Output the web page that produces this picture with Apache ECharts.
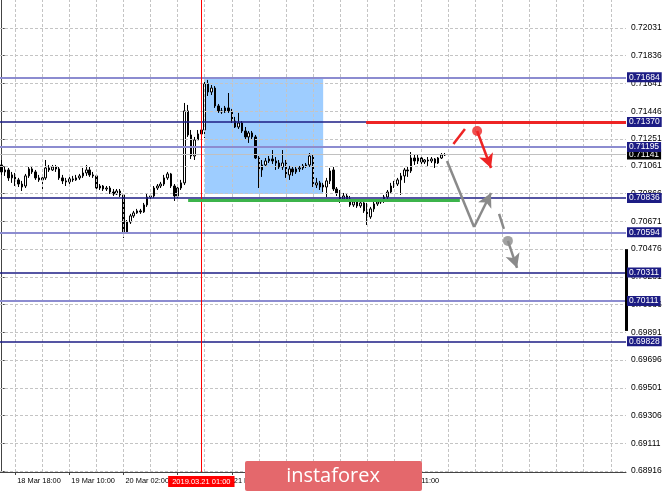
<!DOCTYPE html>
<html><head><meta charset="utf-8">
<script src="https://cdn.jsdelivr.net/npm/echarts@6/dist/echarts.min.js"></script>
<style>html,body{margin:0;padding:0;background:#fff}#c{width:665px;height:492px}</style>
</head><body><div id="c"></div>
<script>
// ---- data ----
const candles = [
[0.71068,0.71019,0.70998,0.71103],[0.71019,0.71033,0.70991,0.71054],[0.71033,0.70977,0.70956,0.71047],[0.70977,0.70998,0.70942,0.71019],
[0.70998,0.70963,0.70920,0.71012],[0.70963,0.70934,0.70913,0.70977],[0.70934,0.70913,0.70885,0.70956],[0.70920,0.70991,0.70906,0.71005],
[0.70991,0.71040,0.70977,0.71054],[0.71040,0.71019,0.71005,0.71061],[0.71019,0.70977,0.70963,0.71033],[0.70977,0.70963,0.70949,0.70998],
[0.70963,0.70977,0.70885,0.70991],[0.70977,0.71047,0.70963,0.71103],[0.71047,0.71033,0.71019,0.71068],[0.71033,0.71054,0.71026,0.71068],
[0.71054,0.71040,0.71019,0.71068],[0.71040,0.70977,0.70963,0.71054],[0.70977,0.70956,0.70934,0.70998],[0.70956,0.70949,0.70920,0.70977],
[0.70949,0.70970,0.70934,0.70991],[0.70970,0.70963,0.70949,0.70991],[0.70963,0.70977,0.70956,0.70998],[0.70977,0.70991,0.70963,0.71005],
[0.70991,0.71012,0.70977,0.71047],[0.71012,0.71033,0.70991,0.71068],[0.71033,0.70998,0.70984,0.71054],[0.70998,0.70991,0.70977,0.71019],
[0.70991,0.70906,0.70892,0.71005],[0.70906,0.70920,0.70892,0.70934],[0.70920,0.70899,0.70885,0.70927],[0.70899,0.70906,0.70885,0.70920],
[0.70906,0.70878,0.70864,0.70920],[0.70878,0.70864,0.70850,0.70899],[0.70864,0.70885,0.70857,0.70899],[0.70885,0.70857,0.70843,0.70899],
[0.70857,0.70597,0.70555,0.70864],[0.70597,0.70667,0.70583,0.70681],[0.70667,0.70710,0.70653,0.70724],[0.70710,0.70731,0.70696,0.70745],
[0.70731,0.70745,0.70724,0.70759],[0.70745,0.70738,0.70724,0.70759],[0.70738,0.70787,0.70731,0.70801],[0.70787,0.70843,0.70773,0.70864],
[0.70843,0.70850,0.70829,0.70871],[0.70850,0.70906,0.70836,0.70920],[0.70906,0.70920,0.70892,0.70934],[0.70920,0.70934,0.70906,0.70949],
[0.70934,0.70977,0.70920,0.70998],[0.70977,0.71005,0.70963,0.71019],[0.71005,0.70920,0.70906,0.71012],[0.70920,0.70850,0.70815,0.70934],
[0.70850,0.70906,0.70836,0.70920],[0.70906,0.70942,0.70892,0.70963],[0.70942,0.71448,0.70927,0.71504],[0.71448,0.71279,0.71265,0.71490],
[0.71279,0.71131,0.71110,0.71314],[0.71131,0.71244,0.71103,0.71265],[0.71244,0.71286,0.71244,0.71314],[0.71286,0.71314,0.71265,0.71328],
[0.71314,0.71638,0.71258,0.71666],[0.71638,0.71581,0.71553,0.71666],[0.71581,0.71609,0.71560,0.71630],[0.71609,0.71483,0.71469,0.71623],
[0.71483,0.71448,0.71434,0.71497],[0.71448,0.71441,0.71427,0.71469],[0.71441,0.71469,0.71434,0.71483],[0.71469,0.71448,0.71434,0.71574],
[0.71448,0.71377,0.71363,0.71462],[0.71377,0.71335,0.71328,0.71406],[0.71335,0.71363,0.71321,0.71434],[0.71363,0.71307,0.71293,0.71377],
[0.71307,0.71265,0.71244,0.71335],[0.71265,0.71293,0.71223,0.71307],[0.71293,0.71265,0.71244,0.71307],[0.71265,0.71117,0.71110,0.71279],
[0.71117,0.71033,0.70906,0.71131],[0.71033,0.71068,0.70984,0.71103],[0.71068,0.71096,0.71054,0.71117],[0.71096,0.71110,0.71082,0.71131],
[0.71110,0.71096,0.71075,0.71173],[0.71096,0.71082,0.71033,0.71124],[0.71082,0.71054,0.71040,0.71103],[0.71054,0.71082,0.71033,0.71173],
[0.71082,0.70998,0.70977,0.71103],[0.70998,0.71040,0.70963,0.71061],[0.71040,0.71019,0.70991,0.71054],[0.71019,0.71040,0.71005,0.71061],
[0.71040,0.71047,0.71019,0.71061],[0.71047,0.71061,0.71033,0.71075],[0.71061,0.71068,0.71047,0.71082],[0.71068,0.71131,0.71054,0.71152],
[0.71131,0.70927,0.70913,0.71145],[0.70927,0.70942,0.70906,0.70977],[0.70942,0.70913,0.70892,0.70956],[0.70913,0.70927,0.70878,0.70942],
[0.70913,0.70956,0.70843,0.70977],[0.70956,0.71026,0.70934,0.71047],[0.71033,0.70899,0.70885,0.71054],[0.70899,0.70871,0.70850,0.70913],
[0.70871,0.70829,0.70801,0.70892],[0.70829,0.70850,0.70815,0.70871],[0.70850,0.70829,0.70808,0.70864],[0.70829,0.70787,0.70773,0.70850],
[0.70787,0.70808,0.70773,0.70822],[0.70808,0.70780,0.70766,0.70822],[0.70780,0.70801,0.70766,0.70822],[0.70801,0.70745,0.70731,0.70815],
[0.70745,0.70703,0.70646,0.70801],[0.70703,0.70759,0.70689,0.70773],[0.70759,0.70794,0.70738,0.70808],[0.70794,0.70808,0.70780,0.70822],
[0.70808,0.70815,0.70794,0.70829],[0.70815,0.70843,0.70801,0.70857],[0.70843,0.70878,0.70829,0.70892],[0.70878,0.70920,0.70864,0.70942],
[0.70920,0.70934,0.70906,0.70956],[0.70934,0.70963,0.70920,0.70977],[0.70963,0.70991,0.70857,0.71012],[0.70991,0.71033,0.70942,0.71047],
[0.71033,0.71026,0.70984,0.71054],[0.71026,0.71117,0.71012,0.71159],[0.71117,0.71096,0.71068,0.71145],[0.71096,0.71117,0.71075,0.71138],
[0.71117,0.71089,0.71068,0.71124],[0.71089,0.71103,0.71075,0.71110],[0.71103,0.71096,0.71061,0.71124],[0.71096,0.71110,0.71082,0.71124],
[0.71110,0.71082,0.71047,0.71117],[0.71082,0.71117,0.71075,0.71124],[0.71117,0.71138,0.71110,0.71152],[0.71138,0.71141,0.71131,0.71152]
];
const yTicks = [0.72031,0.71836,0.71641,0.71446,0.71251,0.71061,0.70866,0.70671,0.70476,0.70281,0.70086,0.69891,0.69696,0.69501,0.69306,0.69111,0.68916];
const darkLevels = [0.71370, 0.70836, 0.70311, 0.69828];
const lightLevels = [0.71684, 0.71195, 0.70594, 0.70111];
const bidPrice = 0.71141;
const priceMin = 0.68909, priceMax = 0.72228;
const categoryCount = 185;          // hourly bars incl. empty shift area on the right
const cursorIndex = 59;             // 2019.03.21 01:00
const zoneBox = [60, 95, 0.71684, 0.70864];   // fromIdx, toIdx, top, bottom
const resistance = [107.7, 0.71370];          // start x (bar index), price
const support = [55.1, 135.4, 0.70822];       // from, to, price
const redDash = [[133.5, 0.71216], [136.9, 0.71321]];
const redDot = [140.5, 0.71307];
const redArrow = [[140.5, 0.71307], [144.6, 0.71047]];
const grayPath = [[131.6, 0.71096], [139.6, 0.70632], [144.6, 0.70871]];
const grayDash = [[147.0, 0.70724], [148.4, 0.70618]];
const grayDot = [149.6, 0.70534];
const grayArrow = [[149.6, 0.70534], [152.3, 0.70344]];
const sideBar = [0.70476, 0.69901];
const months = ['Jan','Feb','Mar','Apr','May','Jun','Jul','Aug','Sep','Oct','Nov','Dec'];

// ---- hourly category labels (market hours only) ----
const pad = n => (n < 10 ? '0' : '') + n;
const times = [];
let t = Date.UTC(2019, 2, 18, 14);
while (times.length < categoryCount) {
  const d = new Date(t), wd = d.getUTCDay(), h = d.getUTCHours();
  if (!(wd === 6 || wd === 0 || (wd === 5 && h === 23))) {
    times.push(d.getUTCFullYear() + '.' + pad(d.getUTCMonth() + 1) + '.' + pad(d.getUTCDate()) + ' ' + pad(h) + ':00');
  }
  t += 3600000;
}
const shortLabel = s => { const p = s.split(/[. ]/); return (+p[2]) + ' ' + months[+p[1] - 1] + ' ' + p[3]; };
const gridX = []; for (let i = 4; i < categoryCount; i += 8) gridX.push(i);
const labelAt = i => i % 16 === 4 && i < candles.length;

const FONT = "'Liberation Sans',Arial,sans-serif";
const NAVY = '#1c1c84', LAV = '#8c8cd0', RED = '#ee2424', GRAY = '#8a8a8a';
const xMax = categoryCount - 0.5;
const lvlLabel = (bg) => ({show: true, position: 'end', distance: 1, formatter: p => p.value.toFixed(5),
  color: '#fff', backgroundColor: bg, padding: [1, 2, 1, 2], fontSize: 8.5, fontFamily: FONT, lineHeight: 8});

const chart = echarts.init(document.getElementById('c'), null, {renderer: 'canvas'});
chart.setOption({
  animation: false,
  backgroundColor: '#fff',
  grid: {left: 0, right: 39, top: 0, bottom: 20},
  xAxis: [{
    type: 'category', data: times, boundaryGap: true,
    axisLine: {show: true, lineStyle: {color: '#444', width: 1}},
    axisTick: {show: true, alignWithLabel: true, length: 3, interval: labelAt, lineStyle: {color: '#444'}},
    axisLabel: {interval: labelAt, formatter: shortLabel, align: 'left', margin: 5,
      color: '#000', fontSize: 7.4, fontFamily: FONT, padding: [0, 0, 0, 2]},
    splitLine: {show: false}
  }, {
    type: 'value', min: -0.5, max: xMax, show: false
  }],
  yAxis: [{
    type: 'value', position: 'right', min: priceMin, max: priceMax,
    axisLine: {show: true, lineStyle: {color: '#444', width: 1}},
    axisTick: {show: true, length: 3, customValues: yTicks, lineStyle: {color: '#444'}},
    axisLabel: {customValues: yTicks, formatter: v => v.toFixed(5), margin: 5, color: '#000', fontSize: 8.5, fontFamily: FONT},
    splitLine: {show: false}
  }],
  series: [
    { // zone rectangle
      type: 'line', xAxisIndex: 0, data: [], z: 1, silent: true,
      markArea: {silent: true, precision: 5, itemStyle: {color: 'rgba(40,145,255,0.45)'},
        data: [[{xAxis: zoneBox[0], yAxis: zoneBox[2]}, {xAxis: zoneBox[1], yAxis: zoneBox[3]}]]}
    },
    { // dotted grid
      type: 'line', xAxisIndex: 0, data: [], z: 1, silent: true,
      markLine: {silent: true, precision: 5, symbol: 'none', label: {show: false},
        lineStyle: {color: '#c4c4c4', width: 1, type: [3, 2]},
        data: yTicks.map(v => ({yAxis: v})).concat(gridX.map(i => ({xAxis: i})))}
    },
    { // level lines
      type: 'line', xAxisIndex: 0, data: [], z: 3, silent: true,
      markLine: {silent: true, precision: 5, symbol: 'none',
        data: [{yAxis: bidPrice, lineStyle: {color: '#c0c0c0', width: 1, type: 'solid'}, label: lvlLabel('#000')}]
          .concat(lightLevels.map(v => ({yAxis: v, lineStyle: {color: LAV, width: 2, type: 'solid'}, label: lvlLabel(NAVY)})))
          .concat(darkLevels.map(v => ({yAxis: v, lineStyle: {color: NAVY, width: 1.5, type: 'solid'}, label: lvlLabel(NAVY)})))}
    },
    { // candles
      type: 'candlestick', xAxisIndex: 0, data: candles, z: 4, barWidth: 2,
      itemStyle: {color: '#fff', color0: '#000', borderColor: '#000', borderColor0: '#000', borderWidth: 1},
      markLine: {silent: true, symbol: 'none',
        lineStyle: {color: '#ff0000', width: 1, type: 'solid'},
        label: {show: true, position: 'start', distance: 4, formatter: () => times[cursorIndex],
          color: '#fff', backgroundColor: '#ff0000', padding: [2, 4, 1, 4], fontSize: 7.5, fontFamily: FONT},
        data: [{xAxis: cursorIndex}]}
    },
    { // annotations
      type: 'line', xAxisIndex: 1, data: [], z: 6, silent: true,
      markLine: {silent: true, precision: 5, symbol: ['none', 'none'], label: {show: false},
        data: [
          [{coord: [resistance[0], resistance[1]], lineStyle: {color: RED, width: 3, type: 'solid'}}, {coord: [xMax, resistance[1]]}],
          [{coord: [support[0], support[2]], lineStyle: {color: '#3cb44b', width: 3, type: 'solid'}}, {coord: [support[1], support[2]]}],
          [{coord: redDash[0], lineStyle: {color: RED, width: 2.5, type: 'solid'}}, {coord: redDash[1]}],
          [{coord: redArrow[0], lineStyle: {color: RED, width: 2.5, type: 'solid'}}, {coord: redArrow[1], symbol: 'arrow', symbolSize: [11, 14]}],
          [{coord: grayPath[0], lineStyle: {color: GRAY, width: 2.5, type: 'solid'}}, {coord: grayPath[1]}],
          [{coord: grayPath[1], lineStyle: {color: GRAY, width: 2.5, type: 'solid'}}, {coord: grayPath[2], symbol: 'arrow', symbolSize: [11, 14]}],
          [{coord: grayDash[0], lineStyle: {color: GRAY, width: 2.5, type: 'solid'}}, {coord: grayDash[1]}],
          [{coord: grayArrow[0], lineStyle: {color: GRAY, width: 2.5, type: 'solid'}}, {coord: grayArrow[1], symbol: 'arrow', symbolSize: [11, 14]}],
          [{coord: [xMax, sideBar[0]], lineStyle: {color: '#000', width: 3, type: 'solid'}}, {coord: [xMax, sideBar[1]]}]
        ]}
    },
    { // dots
      type: 'scatter', xAxisIndex: 1, z: 7, silent: true, symbolSize: 10,
      data: [{value: redDot, itemStyle: {color: RED}}, {value: grayDot, itemStyle: {color: GRAY}}]
    }
  ],
  graphic: [
    {type: 'rect', z: 100, shape: {x: 245, y: 461, width: 177, height: 30, r: 2}, style: {fill: '#e4686c'}},
    {type: 'text', z: 101, style: {text: 'instaforex', x: 333, y: 476, align: 'center', verticalAlign: 'middle',
      font: "20px 'Open Sans', sans-serif", fill: '#fff'}}
  ]
});
</script></body></html>
